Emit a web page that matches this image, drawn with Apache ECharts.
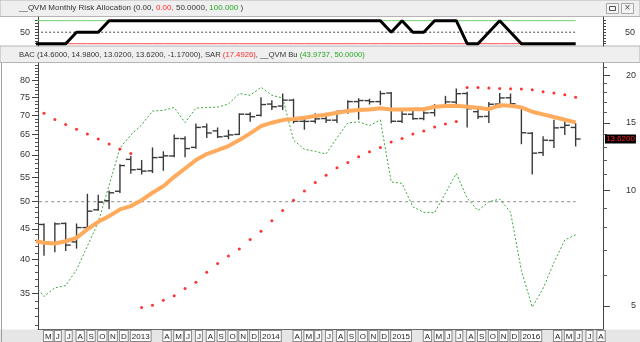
<!DOCTYPE html>
<html><head><meta charset="utf-8">
<script src="https://cdn.jsdelivr.net/npm/echarts@6/dist/echarts.min.js"></script>
<style>html,body{margin:0;padding:0;background:#fff}#c{width:640px;height:342px}</style>
</head><body><div id="c"></div>
<script>
// ---------- data (monthly, Apr 2012 .. Jun 2016) ----------
const months = ['2012-04','2012-05','2012-06','2012-07','2012-08','2012-09','2012-10','2012-11','2012-12',
 '2013-01','2013-02','2013-03','2013-04','2013-05','2013-06','2013-07','2013-08','2013-09','2013-10','2013-11','2013-12',
 '2014-01','2014-02','2014-03','2014-04','2014-05','2014-06','2014-07','2014-08','2014-09','2014-10','2014-11','2014-12',
 '2015-01','2015-02','2015-03','2015-04','2015-05','2015-06','2015-07','2015-08','2015-09','2015-10','2015-11','2015-12',
 '2016-01','2016-02','2016-03','2016-04','2016-05','2016-06'];
const open  = [null,8.15,7.30,8.20,7.34,8.00,8.90,9.40,9.95,12.05,11.35,11.25,12.20,12.30,13.65,12.95,14.65,14.30,13.85,14.00,15.80,
 15.70,16.80,16.60,17.20,15.15,15.15,15.40,15.25,16.10,17.05,17.15,17.05,17.95,15.15,15.80,15.40,15.95,16.50,17.00,17.90,16.05,15.60,16.80,17.45,
 16.50,14.10,12.55,13.50,14.60,14.60];
const high  = [null,8.20,8.25,8.25,8.20,9.80,9.75,10.00,11.70,12.30,12.00,12.95,12.65,14.00,13.85,14.95,14.95,14.60,14.40,15.90,16.00,
 17.50,17.20,17.90,17.35,15.45,15.90,15.95,16.15,17.20,17.40,17.35,18.20,18.05,16.30,16.15,16.10,16.80,17.65,18.45,18.10,16.50,17.00,17.95,17.90,
 16.60,14.20,13.85,15.30,15.15,14.98];
const low   = [null,6.75,6.90,6.95,7.05,7.95,8.85,8.95,9.85,11.05,11.00,11.10,11.25,12.20,12.20,12.85,13.70,13.70,13.60,13.95,15.10,
 15.60,16.20,16.20,14.95,14.40,14.95,15.00,15.00,15.85,15.30,16.75,16.70,14.97,15.00,15.30,15.25,15.60,16.45,16.40,14.60,15.35,15.00,16.45,16.60,
 13.20,11.00,12.30,12.90,13.95,13.02];
const close = [null,7.35,8.18,7.20,8.00,8.83,9.32,9.86,11.61,11.32,11.23,12.18,12.31,13.66,12.86,14.60,14.12,13.80,13.96,15.81,15.57,
 16.75,16.53,17.20,15.15,15.14,15.37,15.25,16.09,17.05,17.16,17.04,17.89,15.15,15.81,15.39,15.93,16.50,17.02,17.88,16.34,15.58,16.78,17.43,16.83,
 14.14,12.51,13.52,14.56,14.79,13.62];
const avgLine = [7.39,7.30,7.27,7.37,7.52,7.92,8.28,8.57,8.92,9.10,9.43,9.86,10.26,10.85,11.41,12.00,12.44,12.74,13.05,13.53,14.09,
 14.72,15.02,15.26,15.35,15.47,15.63,15.75,15.95,16.11,16.21,16.27,16.38,16.27,16.27,16.29,16.29,16.53,16.60,16.63,16.53,16.43,16.29,16.67,16.63,
 16.47,16.04,15.79,15.54,15.29,15.05];
const sar = [null,15.89,15.32,14.87,14.44,14.03,13.61,13.21,12.82,12.49,4.95,5.02,5.17,5.31,5.55,5.76,6.12,6.45,6.74,7.03,7.45,
 7.83,8.33,8.86,9.43,9.97,10.49,10.96,11.46,11.83,12.24,12.61,12.95,13.37,13.67,14.03,14.30,14.63,14.90,15.14,18.57,18.57,18.50,18.46,18.42,
 18.39,18.31,18.09,17.95,17.77,17.49];
const qvmBu = [36.4,34.6,35.8,36.1,38.4,42.1,46.2,53.3,61.6,64.8,67.4,71.1,71.3,72.1,68.0,71.9,72.1,72.2,73.1,76.1,75.6,
 78.0,75.6,74.8,63.5,61.3,60.8,60.2,64.1,67.9,68.2,67.2,68.7,54.0,53.7,49.0,48.0,47.9,51.7,55.8,50.7,48.3,50.0,50.5,48.0,
 38.3,33.2,35.7,39.5,43.1,43.97];
const qvmBuRef = 50;
const riskAlloc = [0,0,0,0,50,50,50,100,100,100,100,100,100,100,100,100,100,100,100,100,100,
 100,100,100,100,100,100,100,100,100,100,100,100,50,100,50,50,100,100,100,0,0,50,100,50,
 0,0,0,0,0,0];
const riskLevels = {low:0, mid:50, high:100};
// x-axis tick labels, May 2012 .. Aug 2016
const tickLabels = ['M','J','J','A','S','O','N','D','2013','','','A','M','J','J','A','S','O','N','D',
 '2014','','','A','M','J','J','A','S','O','N','D','2015','','','A','M','J','J','A','S','O','N','D',
 '2016','','','A','M','J','J','A'];
const leftTicks = [35,40,45,50,55,60,65,70,75,80];
const rightTicks = [5,10,15,20];
const topTicks = [50];
const lastPrice = 13.62;

// ---------- build ----------
const L = v => (v == null ? null : Math.log10(v));
const K = months.map((m, k) => k);
const XMIN = 0.447, XMAX = 52.521;
const LMIN = L(30.5), LMAX = L(85.7);
const RMIN = L(4.35), RMAX = L(21.5);
const FONT = 'Liberation Sans, Arial, sans-serif';

const range = (a, b, s) => { const r = []; for (let v = a; v <= b + 1e-9; v += s) r.push(v); return r; };
const tickPos = tickLabels.map((t, i) => t ? i + 1 : null).filter(v => v != null);
const leftMinor = range(31, 85, 1).filter(v => leftTicks.indexOf(v) < 0).map(L);
const rightMinor = range(5, 21, 1).filter(v => rightTicks.indexOf(v) < 0).map(L);

const ohlc = K.filter(k => open[k] != null).map(k => [k, L(open[k]), L(high[k]), L(low[k]), L(close[k])]);

const axisTxt = {fontSize: 9, color: '#333', fontFamily: FONT};
const hiddenY = {show: true, axisLine: {show: false}, splitLine: {show: false}, axisLabel: {show: false}};

const option = {
  animation: false,
  backgroundColor: '#fff',
  textStyle: {fontFamily: FONT},
  title: [
    {left: 19, top: 4, padding: 0,
     text: '{a|__QVM Monthly Risk Allocation (0.00, }{r|0.00, }{a|50.0000, }{g|100.000 }{a|)}',
     textStyle: {fontSize: 8, fontWeight: 'normal', rich: {
       a: {fontSize: 8, color: '#333', fontFamily: FONT},
       r: {fontSize: 8, color: '#ff2b2b', fontFamily: FONT},
       g: {fontSize: 8, color: '#22a822', fontFamily: FONT}}}},
    {left: 19, top: 51, padding: 0,
     text: '{a|BAC (14.6000, 14.9800, 13.0200, 13.6200, -1.17000), SAR }{r|(17.4926)}{a|, __QVM Bu }{g|(43.9737, 50.0000)}',
     textStyle: {fontSize: 7.7, fontWeight: 'normal', rich: {
       a: {fontSize: 7.7, color: '#333', fontFamily: FONT},
       r: {fontSize: 7.7, color: '#ff2b2b', fontFamily: FONT},
       g: {fontSize: 7.7, color: '#22a822', fontFamily: FONT}}}}
  ],
  grid: [
    {left: 38, right: 37, top: 17, height: 29},
    {left: 38, right: 37, top: 63, height: 266}
  ],
  xAxis: [
    {gridIndex: 0, type: 'value', min: XMIN, max: XMAX, show: false},
    {gridIndex: 1, type: 'value', min: XMIN, max: XMAX,
     axisLine: {lineStyle: {color: '#666'}}, axisTick: {show: false}, splitLine: {show: false},
     axisLabel: {customValues: tickPos, formatter: v => tickLabels[Math.round(v) - 1],
       align: 'left', verticalAlign: 'top', margin: 2, fontSize: 8, color: '#222', fontFamily: FONT,
       backgroundColor: '#fff', borderColor: '#8a8a8a', borderWidth: 1, padding: [1, 1, 0, 1], lineHeight: 9}}
  ],
  yAxis: [
    {gridIndex: 0, type: 'value', position: 'left', min: -10, max: 116,
     axisLine: {show: true, lineStyle: {color: '#444'}}, splitLine: {show: false},
     axisTick: {customValues: range(0, 100, 12.5), length: 3, lineStyle: {color: '#444'}},
     axisLabel: Object.assign({customValues: topTicks, margin: 8}, axisTxt)},
    {gridIndex: 0, type: 'value', position: 'right', min: -10, max: 116,
     axisLine: {show: true, lineStyle: {color: '#444'}}, splitLine: {show: false},
     axisTick: {customValues: range(0, 100, 12.5), length: 3, lineStyle: {color: '#444'}},
     axisLabel: Object.assign({customValues: topTicks, margin: 32, align: 'right'}, axisTxt)},
    {gridIndex: 1, type: 'value', position: 'left', min: LMIN, max: LMAX,
     axisLine: {show: true, lineStyle: {color: '#444'}}, splitLine: {show: false},
     axisTick: {customValues: leftTicks.map(L), length: 6, lineStyle: {color: '#444'}},
     axisLabel: Object.assign({customValues: leftTicks.map(L), margin: 8,
       formatter: v => String(Math.round(Math.pow(10, v)))}, axisTxt)},
    Object.assign({gridIndex: 1, type: 'value', position: 'left', min: LMIN, max: LMAX,
     axisTick: {customValues: leftMinor, length: 3, lineStyle: {color: '#555'}}}, hiddenY),
    {gridIndex: 1, type: 'value', position: 'right', min: RMIN, max: RMAX,
     axisLine: {show: true, lineStyle: {color: '#444'}}, splitLine: {show: false},
     axisTick: {customValues: rightTicks.map(L), length: 7, lineStyle: {color: '#444'}},
     axisLabel: Object.assign({customValues: rightTicks.map(L), margin: 33, align: 'right',
       formatter: v => String(Math.round(Math.pow(10, v)))}, axisTxt)},
    Object.assign({gridIndex: 1, type: 'value', position: 'right', min: RMIN, max: RMAX,
     axisTick: {customValues: rightMinor, length: 4, lineStyle: {color: '#555'}}}, hiddenY),
    {gridIndex: 1, type: 'value', position: 'right', min: RMIN, max: RMAX,
     axisLine: {show: false}, axisTick: {show: false}, splitLine: {show: false},
     axisLabel: {customValues: [L(lastPrice)], margin: 2, align: 'left',
       formatter: () => lastPrice.toFixed(4), fontSize: 8, color: '#ff2020', fontFamily: FONT,
       backgroundColor: '#000', padding: [1, 1, 0, 1]}}
  ],
  graphic: {elements: [
    {type: 'rect', z: -10, shape: {x: 0, y: 0, width: 640, height: 16.5}, style: {fill: '#efefef', stroke: '#b5b5b5', lineWidth: 1}},
    {type: 'rect', z: -10, shape: {x: 0, y: 46, width: 640, height: 16.5}, style: {fill: '#efefef', stroke: '#b5b5b5', lineWidth: 1}},
    {type: 'rect', z: -10, shape: {x: 0, y: 329.5, width: 640, height: 13}, style: {fill: '#e6e6e6'}},
    {type: 'line', z: -9, shape: {x1: 1.5, y1: 63, x2: 1.5, y2: 342}, style: {stroke: '#a0a0a0', lineWidth: 1}},
    {type: 'rect', z: 10, shape: {x: 606.5, y: 3.5, width: 12, height: 10}, style: {fill: '#f4f4f4', stroke: '#a8a8a8'}},
    {type: 'rect', z: 11, shape: {x: 609.5, y: 6.5, width: 6, height: 4}, style: {fill: 'none', stroke: '#555'}},
    {type: 'rect', z: 10, shape: {x: 621.5, y: 3.5, width: 12, height: 10}, style: {fill: '#f4f4f4', stroke: '#a8a8a8'}},
    {type: 'text', z: 11, x: 624.5, y: 3, style: {text: '×', fontSize: 10, fill: '#555', fontFamily: FONT}}
  ]},
  series: [
    {type: 'line', xAxisIndex: 0, yAxisIndex: 0, symbol: 'none', silent: true, z: 2,
     data: K.map(k => [k, riskLevels.high]), lineStyle: {color: '#6fcf6f', width: 1}},
    {type: 'line', xAxisIndex: 0, yAxisIndex: 0, symbol: 'none', silent: true, z: 2,
     data: K.map(k => [k, riskLevels.low]), lineStyle: {color: '#ff4d4d', width: 1}},
    {type: 'line', xAxisIndex: 0, yAxisIndex: 0, symbol: 'none', silent: true, z: 2,
     data: K.map(k => [k, riskLevels.mid]), lineStyle: {color: '#444', width: 1, type: [2, 2]}},
    {type: 'line', xAxisIndex: 0, yAxisIndex: 0, symbol: 'none', silent: true, z: 3,
     data: K.map(k => [k, riskAlloc[k]]), lineStyle: {color: '#000', width: 3}},

    {type: 'line', xAxisIndex: 1, yAxisIndex: 2, symbol: 'none', silent: true, z: 2,
     data: K.map(k => [k, L(qvmBuRef)]), lineStyle: {color: '#888', width: 1, type: [3, 3]}},
    {type: 'line', xAxisIndex: 1, yAxisIndex: 2, symbol: 'none', silent: true, z: 2,
     data: K.map(k => [k, L(qvmBu[k])]), lineStyle: {color: '#3aa83a', width: 1, type: [2, 2]}},
    {type: 'custom', xAxisIndex: 1, yAxisIndex: 4, z: 3, clip: true, silent: true,
     encode: {x: 0, y: [1, 2, 3, 4]}, data: ohlc,
     renderItem: function (params, api) {
       const x = api.value(0);
       const o = api.coord([x, api.value(1)]);
       const h = api.coord([x, api.value(2)]);
       const l = api.coord([x, api.value(3)]);
       const c = api.coord([x, api.value(4)]);
       const w = 5;
       const st = {stroke: '#3a3a3a', lineWidth: 1.4};
       return {type: 'group', children: [
         {type: 'line', shape: {x1: h[0], y1: h[1], x2: l[0], y2: l[1]}, style: st},
         {type: 'line', shape: {x1: o[0] - w, y1: o[1], x2: o[0], y2: o[1]}, style: st},
         {type: 'line', shape: {x1: c[0], y1: c[1], x2: c[0] + w, y2: c[1]}, style: st}
       ]};
     }},
    {type: 'line', xAxisIndex: 1, yAxisIndex: 4, symbol: 'none', silent: true, z: 4,
     data: K.map(k => [k, L(avgLine[k])]), lineStyle: {color: '#ffab5e', width: 4}},
    {type: 'scatter', xAxisIndex: 1, yAxisIndex: 4, silent: true, z: 5, symbol: 'circle', symbolSize: 3,
     data: K.filter(k => sar[k] != null).map(k => [k, L(sar[k])]), itemStyle: {color: '#ff0000'}}
  ]
};
const chart = echarts.init(document.getElementById('c'), null, {renderer: 'canvas'});
chart.setOption(option);
</script></body></html>
